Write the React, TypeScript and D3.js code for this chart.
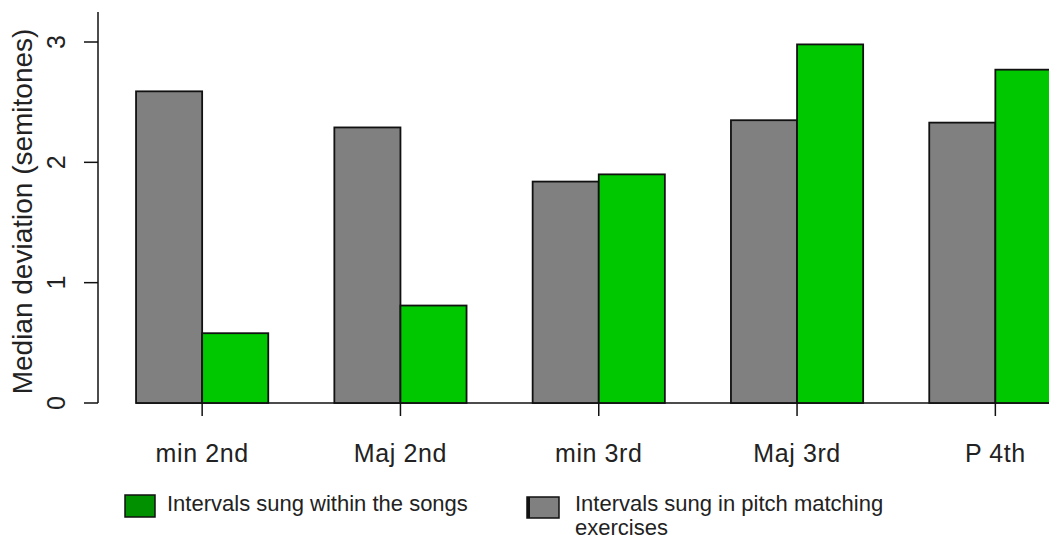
import React, { useEffect, useRef } from 'react';
import * as d3 from 'd3';

// Interval categories along the x axis
const categories = ['min 2nd', 'Maj 2nd', 'min 3rd', 'Maj 3rd', 'P 4th'];
// Median deviation (semitones), pitch matching exercises (gray)
const exerciseValues = [2.59, 2.29, 1.84, 2.35, 2.33];
// Median deviation (semitones), intervals within the songs (green)
const songValues = [0.58, 0.81, 1.9, 2.98, 2.77];
const yTicks = [0, 1, 2, 3];

const width = 1049;
const height = 540;

const App: React.FC = () => {
  const ref = useRef<SVGSVGElement>(null);

  useEffect(() => {
    const svg = d3.select(ref.current)
                  .attr('width', width)
                  .attr('height', height);
    svg.selectAll('*').remove();

    const font = '"Liberation Sans", Arial, sans-serif';

    // Scales
    const yScale = d3.scaleLinear().domain([0, 3]).range([403, 42]);
    const step = 198.3;
    const xScale = d3.scaleBand<string>()
                     .domain(categories)
                     .range([103, 103 + step * categories.length])
                     .paddingInner(1 / 3)
                     .paddingOuter(1 / 6);
    const inner = d3.scaleBand<string>()
                    .domain(['exercise', 'song'])
                    .range([0, xScale.bandwidth()]);

    // Baseline under the bars
    svg.append('line')
       .attr('x1', xScale(categories[0])!)
       .attr('x2', width)
       .attr('y1', yScale(0))
       .attr('y2', yScale(0))
       .attr('stroke', '#111')
       .attr('stroke-width', 1.5);

    // Bars
    const groups = svg.selectAll('g.grp')
                      .data(categories)
                      .enter()
                      .append('g')
                      .attr('class', 'grp')
                      .attr('transform', d => `translate(${xScale(d)},0)`);

    groups.append('rect')
          .attr('x', inner('exercise')!)
          .attr('width', inner.bandwidth())
          .attr('y', (d, i) => yScale(exerciseValues[i]))
          .attr('height', (d, i) => yScale(0) - yScale(exerciseValues[i]))
          .attr('fill', '#808080')
          .attr('stroke', '#111')
          .attr('stroke-width', 1.8);

    groups.append('rect')
          .attr('x', inner('song')!)
          .attr('width', inner.bandwidth())
          .attr('y', (d, i) => yScale(songValues[i]))
          .attr('height', (d, i) => yScale(0) - yScale(songValues[i]))
          .attr('fill', '#00c800')
          .attr('stroke', '#111')
          .attr('stroke-width', 1.8);

    // X ticks and labels (at group centre)
    groups.append('line')
          .attr('x1', xScale.bandwidth() / 2)
          .attr('x2', xScale.bandwidth() / 2)
          .attr('y1', yScale(0))
          .attr('y2', yScale(0) + 13)
          .attr('stroke', '#111')
          .attr('stroke-width', 1.5);

    groups.append('text')
          .attr('x', xScale.bandwidth() / 2)
          .attr('y', 462)
          .attr('text-anchor', 'middle')
          .attr('font-family', font)
          .attr('font-size', 25)
          .attr('letter-spacing', 0.6)
          .attr('fill', '#222')
          .text(d => d);

    // Y axis
    const yAxis = svg.append('g');
    yAxis.append('line')
         .attr('x1', 98).attr('x2', 98)
         .attr('y1', yScale(3.25)).attr('y2', yScale(0))
         .attr('stroke', '#111')
         .attr('stroke-width', 1.5);
    yAxis.selectAll('line.tick')
         .data(yTicks)
         .enter()
         .append('line')
         .attr('class', 'tick')
         .attr('x1', 84).attr('x2', 98)
         .attr('y1', d => yScale(d)).attr('y2', d => yScale(d))
         .attr('stroke', '#111')
         .attr('stroke-width', 1.5);
    yAxis.selectAll('text')
         .data(yTicks)
         .enter()
         .append('text')
         .attr('transform', d => `translate(65,${yScale(d)}) rotate(-90)`)
         .attr('text-anchor', 'middle')
         .attr('font-family', font)
         .attr('font-size', 25)
         .attr('fill', '#222')
         .text(d => d);

    // Y title
    svg.append('text')
       .attr('transform', `translate(32,${(yScale(0) + yScale(3.25)) / 2 + 4}) rotate(-90)`)
       .attr('text-anchor', 'middle')
       .attr('font-family', font)
       .attr('font-size', 28)
       .attr('fill', '#222')
       .text('Median deviation (semitones)');

    // Legend
    const legend = svg.append('g').attr('font-family', font).attr('font-size', 22).attr('fill', '#222');
    legend.append('rect')
          .attr('x', 125).attr('y', 495)
          .attr('width', 30).attr('height', 22)
          .attr('fill', '#009000')
          .attr('stroke', '#111')
          .attr('stroke-width', 1.5);
    legend.append('text')
          .attr('x', 167).attr('y', 511)
          .text('Intervals sung within the songs');

    legend.append('rect')
          .attr('x', 527).attr('y', 497)
          .attr('width', 32).attr('height', 21)
          .attr('fill', '#808080')
          .attr('stroke', '#111')
          .attr('stroke-width', 1.5);
    legend.append('rect')
          .attr('x', 527).attr('y', 497)
          .attr('width', 3).attr('height', 21)
          .attr('fill', '#111');
    legend.append('text')
          .attr('x', 575).attr('y', 511)
          .text('Intervals sung in pitch matching');
    legend.append('text')
          .attr('x', 575).attr('y', 535)
          .text('exercises');
  }, []);

  return <svg ref={ref} style={{ position: 'absolute', left: 0, top: 0, display: 'block' }}></svg>;
};

export default App;
